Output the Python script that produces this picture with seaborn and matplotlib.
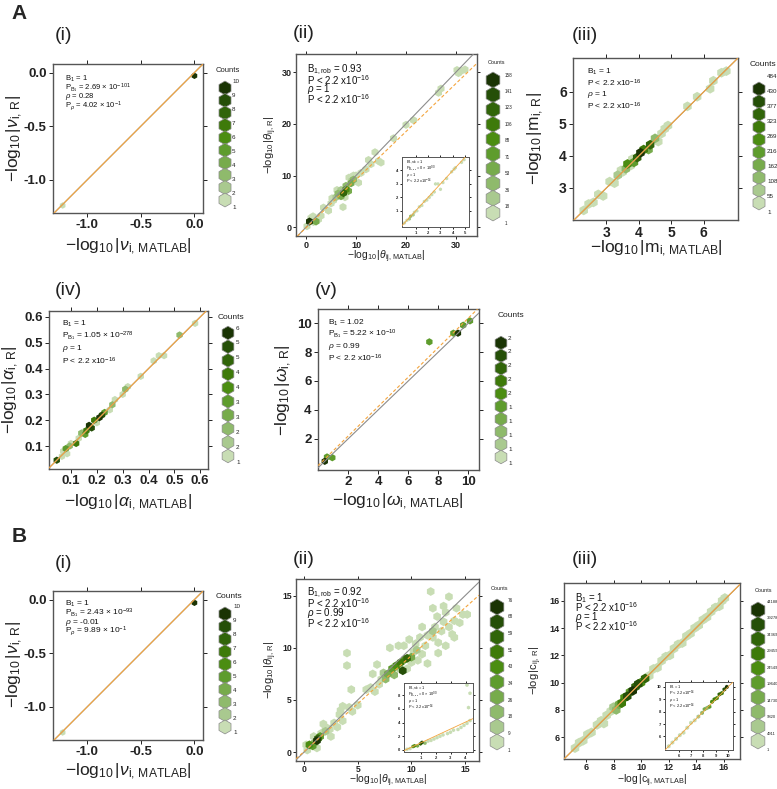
import numpy as np
import pandas as pd
import matplotlib
matplotlib.use('Agg')
import matplotlib.pyplot as plt
import seaborn as sns

W, H = 777, 789

# ---- data (hexbin centres) ----
# A (i) / B (i): nu
nu_x = [0.0, -1.23]
nu_y = [-0.03, -1.24]
nu_n = [10, 1]
nu_labels = [10, 9, 8, 7, 6, 5, 4, 3, 2, 1]

# A (ii): theta
th_x = [0.7, 0.2, 1.5, 1.4, 2.5, 2.0, 3.0, 3.5, 4.5, 5.0, 5.5, 6.0, 6.4, 7.0, 7.0, 7.5, 8.0, 8.5, 9.0,
        9.5, 8.6, 9.5, 10.0, 10.5, 7.4, 7.8, 6.2, 11.0, 12.0, 12.5, 13.0, 13.8, 14.5, 15.0, 17.5, 20.0,
        21.5, 26.5, 27.0, 30.2, 31.0, 31.8, 30.5, 1.0, 5.2, 8.0, 9.2]
th_y = [1.1, 0.2, 1.0, 2.1, 1.5, 1.1, 2.2, 3.8, 3.2, 4.6, 5.2, 5.8, 6.5, 7.2, 6.0, 6.6, 7.3, 7.0, 8.5,
        9.2, 9.6, 10.0, 10.0, 8.6, 3.9, 5.8, 7.2, 10.5, 11.2, 13.0, 12.2, 14.5, 12.8, 12.5, 17.2, 19.8,
        20.7, 26.0, 26.8, 30.4, 30.2, 30.5, 29.8, 1.8, 5.6, 8.0, 9.0]
th_n = [158, 1, 1, 1, 1, 60, 1, 1, 1, 1, 1, 30, 50, 20, 70, 130, 100, 70, 60,
        45, 1, 1, 1, 1, 1, 1, 1, 1, 1, 1, 1, 1, 1, 1, 1, 1,
        1, 1, 1, 1, 1, 1, 1, 1, 10, 40, 25]
th_labels = [158, 141, 123, 106, 88, 71, 53, 36, 18, 1]
th_in_x = [0.1, 0.3, 0.5, 0.6, 0.8, 0.9, 1.1, 1.3, 1.5, 1.7, 1.9, 2.1, 2.3, 2.5, 2.6, 2.8, 3.0, 3.2, 3.5,
           3.9, 4.1, 4.2, 4.7, 4.9]
th_in_y = [0.1, 0.3, 0.4, 0.6, 0.7, 0.9, 1.0, 1.3, 1.4, 1.7, 1.8, 2.0, 2.2, 2.4, 3.0, 3.0, 2.6, 3.1, 3.4,
           3.9, 4.1, 4.2, 4.6, 4.8]
th_in_n = [1, 1, 30, 40, 20, 10, 1, 1, 1, 1, 1, 1, 1, 1, 1, 1, 1, 1, 1, 1, 1, 1, 1, 1]

# A (iii): m
m_x = [2.3, 2.45, 2.6, 2.75, 2.9, 3.1, 3.25, 3.35, 3.5, 3.6, 3.65, 3.75, 3.85, 3.95, 4.05, 4.15, 4.3,
       4.35, 4.5, 4.6, 4.8, 4.9, 5.5, 5.8, 6.2, 6.3, 6.55, 6.7, 3.8, 4.7, 3.45]
m_y = [2.3, 2.5, 2.55, 2.8, 2.75, 3.2, 3.15, 3.4, 3.5, 3.6, 3.75, 3.7, 3.8, 3.95, 4.1, 4.2, 4.2,
       4.35, 4.55, 4.45, 4.85, 4.95, 5.55, 5.85, 6.1, 6.35, 6.6, 6.65, 3.9, 4.7, 3.55]
m_n = [1, 1, 1, 1, 1, 1, 1, 60, 40, 150, 300, 1, 250, 400, 484, 330, 200,
       420, 160, 1, 1, 1, 1, 1, 1, 1, 1, 1, 1, 1, 30]
m_labels = [484, 430, 377, 323, 269, 216, 162, 108, 55, 1]

# A (iv): alpha
al_x = [0.045, 0.07, 0.085, 0.08, 0.095, 0.1, 0.12, 0.13, 0.14, 0.15, 0.16, 0.17, 0.18, 0.19, 0.2,
        0.21, 0.22, 0.23, 0.25, 0.26, 0.27, 0.3, 0.31, 0.32, 0.37, 0.42, 0.44, 0.46, 0.52, 0.58, 0.065, 0.155]
al_y = [0.045, 0.08, 0.07, 0.09, 0.1, 0.11, 0.11, 0.13, 0.15, 0.155, 0.16, 0.18, 0.17, 0.2, 0.19,
        0.21, 0.22, 0.23, 0.24, 0.26, 0.28, 0.3, 0.32, 0.33, 0.37, 0.43, 0.45, 0.45, 0.53, 0.575, 0.06, 0.145]
al_n = [5, 1, 1, 3, 2, 1, 4, 1, 2, 1, 4, 6, 5, 4, 1, 6, 5, 3, 1, 2, 1, 1, 2, 1, 1, 1, 1, 1, 2, 1, 1, 3]
al_labels = [6, 5, 5, 4, 4, 3, 3, 2, 2, 1]

# A (v): omega
om_x = [0.45, 0.6, 0.95, 7.4, 9.0, 9.3, 9.65, 10.1]
om_y = [0.45, 0.75, 0.7, 8.7, 9.3, 9.3, 9.85, 10.15]
om_n = [2, 1, 1, 1, 1, 2, 1, 1]
om_labels = [2, 2, 2, 2, 2, 1, 1, 1, 1, 1]

# B (ii): theta
tb_x = [1.2, 0.5, 0.8, 1.5, 1.3, 9.2, 9.6, 7.8, 8.2, 8.6, 9.0, 9.4, 8.4, 7.6, 10.0,
        0.3, 0.9, 1.6, 2.0, 2.4, 2.8, 3.1, 3.3, 3.6, 3.4, 3.6, 4.2, 4.5, 5.0, 4.4, 4.0, 4.0, 5.8, 6.2,
        6.6, 7.0, 7.2, 6.4, 6.8, 8.0, 8.8, 9.3, 9.8, 10.2, 10.4, 10.8, 10.0, 10.6, 11.0, 11.3, 11.5,
        11.0, 12.0, 12.2, 12.5, 12.8, 13.0, 13.2, 13.5, 13.8, 14.0, 14.2, 14.5, 14.8, 15.2, 12.4, 12.0,
        13.0, 11.8, 13.5, 11.5, 12.5, 13.2, 14.0, 9.6, 2.5, 1.2, 0.2, 1.8,
        1.0, 2.0, 7.4, 10.5, 12.0, 8.9]
tb_y = [1.1, 0.7, 0.6, 1.5, 1.3, 7.8, 9.0, 7.5, 8.0, 8.3, 8.6, 8.9, 7.4, 7.0, 9.1,
        0.2, 1.5, 1.8, 2.4, 2.2, 2.8, 2.4, 3.6, 3.0, 4.0, 4.4, 4.3, 3.9, 4.5, 6.0, 9.5, 8.3, 6.0, 6.2,
        5.8, 6.5, 7.0, 7.5, 8.4, 10.0, 10.2, 10.2, 10.8, 9.6, 10.4, 11.0, 8.6, 8.8, 9.4, 10.2, 11.2,
        12.0, 11.0, 12.0, 10.5, 11.6, 12.5, 13.4, 12.0, 11.3, 12.6, 13.8, 12.4, 13.2, 13.2, 13.0, 13.8,
        14.0, 15.4, 14.9, 8.5, 9.5, 10.2, 11.0, 8.0, 1.5, 0.4, 0.7, 2.7,
        0.9, 2.0, 7.6, 9.8, 11.6, 8.0]
tb_n = [76, 50, 40, 40, 60, 70, 65, 30, 35, 45, 55, 50, 25, 20, 30,
        1, 1, 1, 1, 1, 1, 1, 1, 1, 1, 1, 1, 1, 1, 1, 1, 1, 1, 1,
        1, 1, 1, 1, 1, 1, 1, 1, 1, 1, 1, 1, 1, 1, 1, 1, 1,
        1, 1, 1, 1, 1, 1, 1, 1, 1, 1, 1, 1, 1, 1, 1, 1,
        1, 1, 1, 1, 1, 1, 1, 1, 1, 1, 1, 1,
        20, 12, 15, 10, 10, 15]
tb_labels = [76, 68, 59, 51, 43, 34, 26, 18, 9, 1]
tb_in_x = [0.1, 0.3, 0.5, 0.6, 0.8, 1.0, 1.1, 1.3, 1.5, 1.7, 1.9, 2.1, 2.3, 2.5, 2.8, 3.0, 3.2, 3.5,
           3.7, 3.9, 4.1, 4.3, 4.2, 4.1, 4.3]
tb_in_y = [0.1, 0.2, 0.5, 0.6, 0.6, 0.9, 1.1, 1.0, 1.3, 1.4, 1.6, 1.8, 2.0, 2.2, 2.4, 2.6, 2.9, 3.0,
           3.3, 3.6, 3.9, 4.3, 6.2, 9.5, 8.3]
tb_in_n = [1, 1, 40, 50, 30, 60, 70, 20, 1, 1, 1, 1, 1, 1, 1, 1, 1, 1, 1, 1, 1, 1, 1, 1, 1]

# B (iii): c
c_x = [5.2, 5.5, 5.8, 6.1, 6.4, 6.8, 7.1, 7.3, 7.5, 7.8, 8.0, 8.2, 8.4, 8.6, 8.8, 9.0, 9.2, 9.4, 9.6,
       9.8, 10.0, 10.3, 10.6, 10.9, 11.2, 11.5, 11.8, 12.1, 12.4, 12.7, 13.0, 13.3, 13.6, 13.9, 14.2,
       14.5, 14.8, 15.1, 15.4, 15.7, 15.9, 16.1]
c_y = [5.2, 5.6, 5.75, 6.2, 6.35, 6.9, 7.2, 7.0, 7.6, 7.9, 8.2, 8.0, 8.4, 8.5, 8.9, 9.0, 9.3, 9.4, 9.7,
       9.9, 10.0, 10.3, 10.5, 11.0, 11.1, 11.6, 11.9, 12.0, 12.5, 12.8, 12.9, 13.4, 13.6, 14.0, 14.2,
       14.6, 14.8, 15.2, 15.5, 15.6, 16.0, 16.2]
c_n = [1, 1, 1, 1, 1, 1, 1, 1, 1, 3000, 9000, 12000, 15000, 30000, 25000, 42000, 20000, 44188, 35000,
       40000, 25000, 38000, 1, 1, 1, 1, 1, 1, 1, 1, 1, 1, 1, 1, 1,
       1, 1, 1, 1, 1, 1, 1]
c_labels = [44188, 39278, 34369, 29459, 24549, 19640, 14730, 9820, 4911, 1]
c_in_x = [5.2, 5.5, 5.8, 6.1, 6.4, 6.7, 7.0, 7.3, 7.6, 7.9, 8.1, 8.3, 8.5, 8.7, 8.9, 9.1, 9.3, 9.5,
          9.7, 9.9]
c_in_y = [5.2, 5.5, 5.8, 6.1, 6.3, 6.7, 7.1, 7.3, 7.6, 7.9, 8.2, 8.3, 8.4, 8.8, 9.0, 9.1, 9.4, 9.5,
          9.8, 10.0]
c_in_n = [1, 1, 1, 1, 1, 1, 1, 1, 4911, 9820, 14730, 12000, 20000, 25000, 30000, 24549, 35000, 29459,
          40000, 44188]

GREENS = ['#c8ddb4', '#a9c98f', '#8fba6c', '#77ab4c', '#5e9c2d',
          '#4b8d12', '#3e7a0a', '#31650a', '#254f08', '#1a3404']
ORANGE = '#f4a43c'
GREY = '#8c8c8c'

sns.set_theme(style='white')
plt.rcParams['font.family'] = ['Liberation Sans', 'DejaVu Sans']
plt.rcParams['mathtext.fontset'] = 'custom'
plt.rcParams['mathtext.rm'] = 'Liberation Sans'
plt.rcParams['mathtext.it'] = 'Liberation Sans:italic'
plt.rcParams['mathtext.bf'] = 'Liberation Sans:bold'
plt.rcParams['axes.unicode_minus'] = False

fig = plt.figure(figsize=(W / 100, H / 100), dpi=100)
ov = fig.add_axes([0, 0, 1, 1])
ov.axis('off')


def px_axes(x0, y0, x1, y1):
    return fig.add_axes([x0 / W, 1 - y1 / H, (x1 - x0) / W, (y1 - y0) / H])


def levels(counts, labels):
    asc = sorted(labels)
    return np.clip(np.searchsorted(asc, counts, side='right') - 1, 0, 9)


def hexes(ax, xs, ys, counts, labels, s):
    df = pd.DataFrame({'x': xs, 'y': ys, 'n': counts})
    df['lvl'] = levels(df['n'], labels)
    df = df.sort_values('lvl')
    sns.scatterplot(data=df, x='x', y='y', hue='lvl', palette=dict(enumerate(GREENS)),
                    marker='h', s=s, linewidth=0, legend=False, ax=ax, zorder=2)
    ax.set(xlabel='', ylabel='')


def frame(ax, xlim, ylim, xt, yt, fs, fmt='%g', tl=3, lw=1.0, pad=1.5):
    ax.set_xlim(xlim)
    ax.set_ylim(ylim)
    ax.set_xticks(xt)
    ax.set_yticks(yt)
    ax.set_xticklabels([fmt % v for v in xt], fontweight='bold', fontsize=fs)
    ax.set_yticklabels([fmt % v for v in yt], fontweight='bold', fontsize=fs)
    ax.tick_params(direction='out', length=tl, width=0.7, top=True, right=True,
                   bottom=True, left=True, colors='#222', pad=pad)
    for sp in ax.spines.values():
        sp.set_visible(True)
        sp.set_color('#555555')
        sp.set_linewidth(lw)
    ax.set_facecolor('white')


def lines(ax, slope, intercept=0.0, dashed=False, lw=0.8):
    ax.axline((0, 0), slope=1, color=GREY, lw=lw, zorder=3)
    ax.axline((0, intercept), slope=slope, color=ORANGE, lw=lw,
              ls=(0, (3, 2)) if dashed else '-', zorder=3)


def stats(ax, x, y0, dy, txts, fs):
    # x, y0, dy in pixels relative to the axes' top-left corner
    bb = ax.get_position()
    w, h = bb.width * W, bb.height * H
    for i, t in enumerate(txts):
        ax.text(x / w, 1 - (y0 + i * dy) / h, t, transform=ax.transAxes,
                fontsize=fs, va='center', ha='left', color='#111', zorder=5)


def legend(hx, hy0, hy1, lx, ly0, ly1, tx, ty, labels, s, lfs, tfs):
    n = len(labels)
    sns.scatterplot(x=[hx] * n, y=np.linspace(hy0, hy1, n), hue=list(range(n - 1, -1, -1)),
                    palette=dict(enumerate(GREENS)), marker='h', s=s, edgecolor='#8a8a8a',
                    linewidth=0.5, legend=False, ax=ov)
    for y, lab in zip(np.linspace(ly0, ly1, n), labels):
        ov.text(lx, y, str(lab), fontsize=lfs, va='center', ha='left', color='#222')
    ov.text(tx, ty, 'Counts', fontsize=tfs, va='center', ha='left', color='#222')


def label(x, y, txt, fs, rot=0):
    ov.text(x, y, txt, fontsize=fs, ha='center', va='center', rotation=rot, color='#222')


NU_TXT = r'$-\mathrm{log}_{10}\,|\nu_{\mathrm{i,\,%s}}|$'
P216 = r'P < 2.2 x10$^{-16}$'
INSET_ROB = [r'B$_{\mathrm{1,rob}}$ = 1', r'P$_{\mathrm{B_{1,rob}}}$ = 0 × 10$^{00}$',
             r'$\rho$ = 1', r'P < 2.2 x10$^{-16}$']

# ---------- A (i) ----------
ax = px_axes(53, 64, 203, 213)
hexes(ax, nu_x, nu_y, nu_n, nu_labels, 22)
lines(ax, 1.0)
frame(ax, (-1.32, 0.08), (-1.31, 0.08), [-1.0, -0.5, 0.0], [-1.0, -0.5, 0.0], 9.5, '%.1f')
stats(ax, 12, 15, 9, [r'B$_1$ = 1', r'P$_{\mathrm{B_1}}$ = 2.69 × 10$^{-101}$',
                      r'$\rho$ = 0.28', r'P$_\rho$ = 4.02 × 10$^{-1}$'], 5.5)
legend(225, 88, 200, 232, 81, 207, 216, 70, nu_labels, 100, 4.5, 5.5)
label(128, 247, NU_TXT % 'MATLAB', 12.5)
label(15, 139, NU_TXT % 'R', 12.5, 90)

# ---------- A (ii) ----------
ax = px_axes(296, 54, 477, 236)
hexes(ax, th_x, th_y, th_n, th_labels, 34)
lines(ax, 0.93, -0.1, dashed=True)
frame(ax, (-2, 34.2), (-1.7, 33.5), [0, 10, 20, 30], [0, 10, 20, 30], 6.5, tl=2.5, pad=0.8)
stats(ax, 11, 16, 9.7, [r'B$_{\mathrm{1,rob}}$ = 0.93', P216, r'$\rho$ = 1', P216], 7)
legend(493, 80, 213, 505, 75, 223, 488, 62, th_labels, 130, 3.3, 4)
label(386, 257, r'$-\mathrm{log}_{10}\,|\theta_{\mathrm{ij,\,MATLAB}}|$', 7.5)
label(271, 145, r'$-\mathrm{log}_{10}\,|\theta_{\mathrm{ij,\,R}}|$', 8, 90)
ins = px_axes(402, 157, 469, 227)
hexes(ins, th_in_x, th_in_y, th_in_n, th_labels, 7)
ins.axline((0, 0), slope=1, color=ORANGE, lw=0.6, zorder=3)
frame(ins, (-0.1, 5.3), (-0.2, 5.0), [1, 2, 3, 4, 5], [1, 2, 3, 4], 3, tl=1.5, lw=0.7)
stats(ins, 4, 5, 6.5, INSET_ROB, 2.8)

# ---------- A (iii) ----------
ax = px_axes(573, 58, 738, 220)
hexes(ax, m_x, m_y, m_n, m_labels, 50)
lines(ax, 1.0)
frame(ax, (1.97, 7.06), (2.0, 7.06), [3, 4, 5, 6], [3, 4, 5, 6], 10)
stats(ax, 14, 14, 11.3, [r'B$_1$ = 1', P216, r'$\rho$ = 1', P216], 6)
legend(759, 89, 203, 767, 76, 212, 750, 64, m_labels, 100, 4.5, 6)
label(656, 249, r'$-\mathrm{log}_{10}\,|\mathrm{m}_{\mathrm{i,\,MATLAB}}|$', 12.5)
label(536, 139, r'$-\mathrm{log}_{10}\,|\mathrm{m}_{\mathrm{i,\,R}}|$', 12.5, 90)

# ---------- A (iv) ----------
ax = px_axes(49, 311, 208, 469)
hexes(ax, al_x, al_y, al_n, al_labels, 28)
lines(ax, 1.0)
frame(ax, (0.015, 0.63), (0.011, 0.623), [0.1, 0.2, 0.3, 0.4, 0.5, 0.6],
      [0.1, 0.2, 0.3, 0.4, 0.5, 0.6], 9.5, '%.1f')
stats(ax, 13, 13, 12.3, [r'B$_1$ = 1', r'P$_{\mathrm{B_1}}$ = 1.05 × 10$^{-278}$',
                         r'$\rho$ = 1', P216], 6)
legend(228, 333, 456, 236, 328, 462, 218, 317, al_labels, 95, 4.5, 6)
label(128, 503, r'$-\mathrm{log}_{10}\,|\alpha_{\mathrm{i,\,MATLAB}}|$', 12.5)
label(11, 390, r'$-\mathrm{log}_{10}\,|\alpha_{\mathrm{i,\,R}}|$', 12.5, 90)

# ---------- A (v) ----------
ax = px_axes(318, 309, 479, 470)
hexes(ax, om_x, om_y, om_n, om_labels, 28)
lines(ax, 1.02, 0.15, dashed=True)
frame(ax, (0.0, 10.7), (-0.15, 10.97), [2, 4, 6, 8, 10], [2, 4, 6, 8, 10], 9.5)
stats(ax, 10, 14, 11.7, [r'B$_1$ = 1.02', r'P$_{\mathrm{B_1}}$ = 5.22 × 10$^{-10}$',
                         r'$\rho$ = 0.99', P216], 6)
legend(501, 343, 457, 508, 338, 463, 498, 315, om_labels, 95, 4.5, 6)
label(398, 502, r'$-\mathrm{log}_{10}\,|\omega_{\mathrm{i,\,MATLAB}}|$', 12.5)
label(284, 390, r'$-\mathrm{log}_{10}\,|\omega_{\mathrm{i,\,R}}|$', 12.5, 90)

# ---------- B (i) ----------
ax = px_axes(53, 591, 203, 740)
hexes(ax, nu_x, nu_y, nu_n, nu_labels, 22)
lines(ax, 1.0)
frame(ax, (-1.32, 0.08), (-1.31, 0.08), [-1.0, -0.5, 0.0], [-1.0, -0.5, 0.0], 9.5, '%.1f')
stats(ax, 12, 13, 9, [r'B$_1$ = 1', r'P$_{\mathrm{B_1}}$ = 2.43 × 10$^{-93}$',
                      r'$\rho$ = -0.01', r'P$_\rho$ = 9.89 × 10$^{-1}$'], 6)
legend(225, 614, 727, 233, 607, 733, 216, 596, nu_labels, 100, 4.5, 6)
label(128, 772, NU_TXT % 'MATLAB', 12.5)
label(15, 665, NU_TXT % 'R', 12.5, 90)

# ---------- B (ii) ----------
ax = px_axes(296, 579, 479, 761)
hexes(ax, tb_x, tb_y, tb_n, tb_labels, 40)
lines(ax, 0.92, 0.05, dashed=True)
frame(ax, (-0.75, 16.3), (-0.85, 16.6), [0, 5, 10, 15], [0, 5, 10, 15], 6.2, tl=2.5, pad=0.5)
stats(ax, 11, 14, 10.2, [r'B$_{\mathrm{1,rob}}$ = 0.92', P216, r'$\rho$ = 0.99', P216], 7)
legend(497, 607, 742, 508, 600, 750, 491, 588, tb_labels, 130, 3.3, 4)
label(388, 781, r'$-\mathrm{log}_{10}\,|\theta_{\mathrm{ij,\,MATLAB}}|$', 7.5)
label(271, 670, r'$-\mathrm{log}_{10}\,|\theta_{\mathrm{ij,\,R}}|$', 8, 90)
ins = px_axes(404, 683, 473, 752)
hexes(ins, tb_in_x, tb_in_y, tb_in_n, tb_labels, 8)
ins.axline((0, 0), slope=1.02, color=ORANGE, lw=0.6, zorder=3)
frame(ins, (-0.1, 4.5), (-0.3, 9.8), [1, 2, 3, 4], [0, 2, 4, 6, 8], 3, tl=1.5, lw=0.7)
stats(ins, 4, 5, 6.5, INSET_ROB, 2.8)

# ---------- B (iii) ----------
ax = px_axes(564, 583, 740, 759)
hexes(ax, c_x, c_y, c_n, c_labels, 50)
lines(ax, 1.0)
frame(ax, (4.4, 17.2), (4.4, 17.3), [6, 8, 10, 12, 14, 16], [6, 8, 10, 12, 14, 16], 6.5,
      tl=2.5, pad=0.5)
stats(ax, 11, 15, 9.5, [r'B$_1$ = 1', P216, r'$\rho$ = 1', P216], 7)
legend(758, 610, 741, 767, 602, 750, 755, 591, c_labels, 130, 3, 4)
label(652, 781, r'$-\mathrm{log}\,|\mathrm{c}_{\mathrm{ij,\,MATLAB}}|$', 7.5)
label(536, 670, r'$-\mathrm{log}\,|\mathrm{c}_{\mathrm{ij,\,R}}|$', 8, 90)
ins = px_axes(665, 682, 733, 750)
hexes(ins, c_in_x, c_in_y, c_in_n, c_labels, 10)
ins.axline((5, 5), slope=1, color=ORANGE, lw=0.6, zorder=3)
frame(ins, (4.9, 10.4), (4.9, 10.4), [6, 7, 8, 9, 10], [6, 7, 8, 9, 10], 3, tl=1.5, lw=0.7)
stats(ins, 4, 5, 6.5, [r'B$_1$ = 1', r'P < 2.2 x10$^{-16}$', r'$\rho$ = 1',
                       r'P < 2.2 x10$^{-16}$'], 2.8)

# ---------- panel titles ----------
for x, y, t in [(63, 35, '(i)'), (304, 33, '(ii)'), (585, 35, '(iii)'), (68, 290, '(iv)'),
                (326, 290, '(v)'), (63, 563, '(i)'), (304, 560, '(ii)'), (585, 560, '(iii)')]:
    label(x, y, t, 14)
ov.text(19, 13, 'A', fontsize=15, fontweight='bold', ha='center', va='center')
ov.text(19, 537, 'B', fontsize=15, fontweight='bold', ha='center', va='center')

ov.set_xlim(0, W)
ov.set_ylim(H, 0)
fig.savefig('out.png', dpi=100)
